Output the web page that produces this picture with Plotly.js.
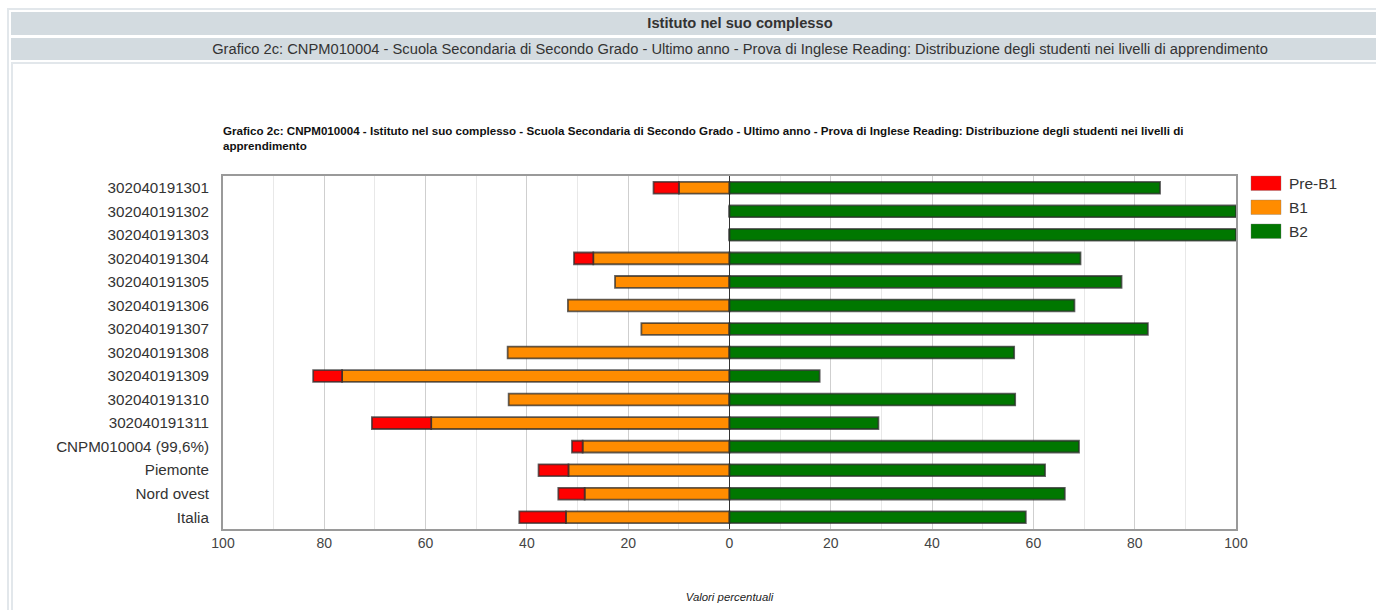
<!DOCTYPE html>
<html>
<head>
<meta charset="utf-8">
<script src="https://cdn.plot.ly/plotly-3.0.1.min.js"></script>
<style>
  html, body { margin: 0; padding: 0; width: 1376px; height: 610px; overflow: hidden; background: #fff; font-family: Arial, "Liberation Sans", sans-serif; }
  .outer-top { position: absolute; left: 7px; top: 8px; width: 1500px; height: 2px; background: #e2e7eb; }
  .outer-left { position: absolute; left: 7px; top: 8px; width: 2px; height: 700px; background: #e2e7eb; }
  .hdr { position: absolute; left: 11px; width: 1458px; background: #d3dbe0; color: #333; text-align: center; font-size: 14.7px; }
  .hdr1 { top: 12px; height: 23px; line-height: 23px; font-weight: bold; }
  .hdr2 { top: 38px; height: 22px; line-height: 22px; }
  .panel-top { position: absolute; left: 11px; top: 62px; width: 1500px; height: 2px; background: #e2e7eb; }
  .panel-left { position: absolute; left: 11px; top: 62px; width: 2px; height: 700px; background: #e2e7eb; }
  #chart { position: absolute; left: 0; top: 0; width: 1376px; height: 610px; }
</style>
</head>
<body>
<div class="outer-top"></div>
<div class="outer-left"></div>
<div class="hdr hdr1">Istituto nel suo complesso</div>
<div class="hdr hdr2">Grafico 2c: CNPM010004 - Scuola Secondaria di Secondo Grado - Ultimo anno - Prova di Inglese Reading: Distribuzione degli studenti nei livelli di apprendimento</div>
<div class="panel-top"></div>
<div class="panel-left"></div>
<div id="chart"></div>
<script>
const categories = [
  "302040191301", "302040191302", "302040191303", "302040191304", "302040191305",
  "302040191306", "302040191307", "302040191308", "302040191309", "302040191310",
  "302040191311", "CNPM010004 (99,6%)", "Piemonte", "Nord ovest", "Italia"
];
const seriesNames = ["Pre-B1", "B1", "B2"];
const seriesColors = ["#ff0000", "#ff8c00", "#007700"];
const preB1 = [5.0, 0, 0, 3.8, 0, 0, 0, 0, 5.7, 0, 11.7, 2.1, 5.9, 5.2, 9.2];
const b1 = [10.0, 0, 0, 26.9, 22.6, 31.9, 17.4, 43.8, 76.5, 43.6, 58.9, 29.0, 31.8, 28.6, 32.3];
const b2 = [85.0, 100, 100, 69.3, 77.4, 68.1, 82.6, 56.2, 17.8, 56.4, 29.4, 69.0, 62.3, 66.2, 58.5];
const tickValues = [-100, -80, -60, -40, -20, 0, 20, 40, 60, 80, 100];
const tickLabels = ["100", "80", "60", "40", "20", "0", "20", "40", "60", "80", "100"];
const chartTitle = "Grafico 2c: CNPM010004 - Istituto nel suo complesso - Scuola Secondaria di Secondo Grado - Ultimo anno - Prova di Inglese Reading: Distribuzione degli studenti nei livelli di<br>apprendimento";
const xTitle = "Valori percentuali";

const barLine = { color: "rgba(45,45,45,0.75)", width: 1.8 };
function barTrace(name, values, color, sign) {
  return {
    type: "bar", orientation: "h", name: name,
    y: categories, x: values.map(v => sign * v),
    marker: { color: color, line: barLine },
    showlegend: false,
    hovertemplate: "%{y}: " + name + "<extra></extra>"
  };
}
// Order matters for relative stacking: B1 closest to zero on the left, then Pre-B1
const data = [
  barTrace(seriesNames[1], b1, seriesColors[1], -1),
  barTrace(seriesNames[0], preB1, seriesColors[0], -1),
  barTrace(seriesNames[2], b2, seriesColors[2], 1)
];

// custom legend (boxes + labels)
const plotTop = 176, plotBottom = 529, plotH = plotBottom - plotTop;
const plotLeft = 223, plotW = 1013;
const px2xp = px => (px - plotLeft) / plotW;
const px2yp = py => (plotBottom - py) / plotH;
const shapes = [];
const annotations = [];
seriesNames.forEach((n, i) => {
  const top = 176 + i * 24;
  shapes.push({
    type: "rect", xref: "paper", yref: "paper",
    x0: px2xp(1251), x1: px2xp(1281), y0: px2yp(top + 14.5), y1: px2yp(top),
    fillcolor: seriesColors[i], line: { color: "rgba(120,120,120,0.35)", width: 1 }
  });
  annotations.push({
    xref: "paper", yref: "paper", x: px2xp(1287), y: px2yp(top + 7.5),
    xanchor: "left", yanchor: "middle", showarrow: false, text: n,
    font: { family: "Arial, Liberation Sans, sans-serif", size: 15.5, color: "#333" }
  });
});

const layout = {
  width: 1376, height: 610,
  margin: { l: 223, r: 140, t: 176, b: 81 },
  paper_bgcolor: "rgba(0,0,0,0)",
  plot_bgcolor: "#ffffff",
  barmode: "relative",
  bargap: 0.5,
  showlegend: false,
  font: { family: "Arial, Liberation Sans, sans-serif", size: 14, color: "#333" },
  title: {
    text: chartTitle,
    xref: "paper", x: 0, xanchor: "left",
    yref: "container", y: 1 - 135 / 610, yanchor: "top",
    font: { family: "Arial, Liberation Sans, sans-serif", size: 11.6, color: "#111", weight: "bold" }
  },
  xaxis: {
    range: [-100, 100],
    tickvals: tickValues, ticktext: tickLabels,
    showgrid: true, gridcolor: "#cfcfcf", gridwidth: 1,
    minor: { dtick: 10, showgrid: true, gridcolor: "#e8e8e8", gridwidth: 1 },
    zeroline: true, zerolinecolor: "#333", zerolinewidth: 1.5,
    showline: true, mirror: true, linecolor: "#9a9a9a", linewidth: 2,
    ticks: "", tickfont: { size: 14, color: "#444" },
    title: { text: xTitle, standoff: 43, font: { size: 11.4, color: "#222", style: "italic" } },
    fixedrange: true
  },
  yaxis: {
    type: "category", autorange: "reversed",
    showgrid: false, zeroline: false,
    showline: true, mirror: true, linecolor: "#9a9a9a", linewidth: 2,
    ticks: "", ticklabelstandoff: 9,
    tickfont: { size: 15.2, color: "#333" },
    fixedrange: true
  },
  shapes: shapes,
  annotations: annotations
};

Plotly.newPlot("chart", data, layout, { displayModeBar: false, staticPlot: true });
</script>
</body>
</html>
